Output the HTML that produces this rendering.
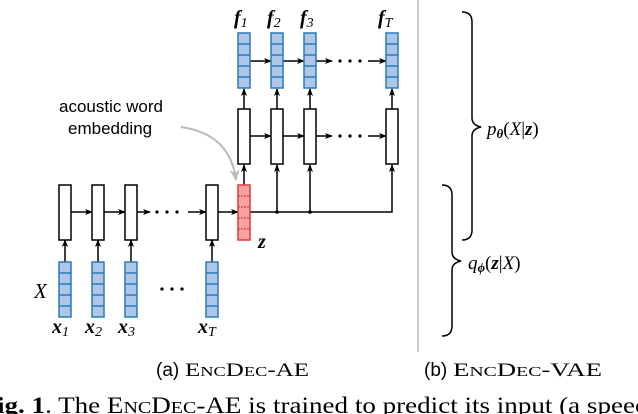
<!DOCTYPE html>
<html><head><meta charset="utf-8"><style>
html,body{margin:0;padding:0;background:#fff;width:638px;height:414px;overflow:hidden}
svg{display:block}
.m{font-family:"Liberation Serif",serif;font-style:italic}
.b{font-weight:bold}
</style></head><body>
<svg width="638" height="414" viewBox="0 0 638 414" xmlns="http://www.w3.org/2000/svg">
<defs>
<marker id="a" markerWidth="8" markerHeight="6" refX="7" refY="3" orient="auto" markerUnits="userSpaceOnUse"><path d="M0,0 L8,3 L0,6 L2,3 z" fill="#000"/></marker>
<marker id="g" markerWidth="12" markerHeight="10" refX="10" refY="5" orient="auto" markerUnits="userSpaceOnUse"><path d="M0,0 L11,5 L0,10 L3,5 z" fill="#bbb"/></marker>
<g id="vec"><rect x="0" y="0" width="12" height="55" fill="#aec7e8" stroke="#2a7ab8" stroke-width="1.5"/><path d="M0,11H12M0,22H12M0,33H12M0,44H12" stroke="#2a7ab8" stroke-width="1.5"/></g>
<rect id="box" x="0" y="0" width="12" height="55" fill="#fff" stroke="#000" stroke-width="1.5"/>
</defs>
<g stroke="#000" stroke-width="1.5" fill="none">
<line x1="65" y1="262" x2="65" y2="240" marker-end="url(#a)"/>
<line x1="98" y1="262" x2="98" y2="240" marker-end="url(#a)"/>
<line x1="131" y1="262" x2="131" y2="240" marker-end="url(#a)"/>
<line x1="212" y1="262" x2="212" y2="240" marker-end="url(#a)"/>
<line x1="71" y1="212" x2="92" y2="212" marker-end="url(#a)"/>
<line x1="104" y1="212" x2="125" y2="212" marker-end="url(#a)"/>
<line x1="137" y1="212" x2="150" y2="212" marker-end="url(#a)"/>
<line x1="188" y1="212" x2="206" y2="212" marker-end="url(#a)"/>
<line x1="218" y1="212" x2="238" y2="212" marker-end="url(#a)"/>
<line x1="244" y1="185" x2="244" y2="165" marker-end="url(#a)"/>
<polyline points="250,212 392,212 392,165" marker-end="url(#a)"/>
<line x1="277" y1="212" x2="277" y2="165" marker-end="url(#a)"/>
<line x1="310" y1="212" x2="310" y2="165" marker-end="url(#a)"/>
<line x1="250" y1="136" x2="271" y2="136" marker-end="url(#a)"/>
<line x1="283" y1="136" x2="304" y2="136" marker-end="url(#a)"/>
<line x1="316" y1="136" x2="332" y2="136" marker-end="url(#a)"/>
<line x1="368" y1="136" x2="386" y2="136" marker-end="url(#a)"/>
<line x1="250" y1="61" x2="271" y2="61" marker-end="url(#a)"/>
<line x1="283" y1="61" x2="304" y2="61" marker-end="url(#a)"/>
<line x1="316" y1="61" x2="332" y2="61" marker-end="url(#a)"/>
<line x1="368" y1="61" x2="386" y2="61" marker-end="url(#a)"/>
<line x1="244" y1="109" x2="244" y2="89" marker-end="url(#a)"/>
<line x1="277" y1="109" x2="277" y2="89" marker-end="url(#a)"/>
<line x1="310" y1="109" x2="310" y2="89" marker-end="url(#a)"/>
<line x1="392" y1="109" x2="392" y2="89" marker-end="url(#a)"/>
</g>
<circle cx="277" cy="212" r="1.8"/><circle cx="310" cy="212" r="1.8"/>
<g fill="#000">
<circle cx="157" cy="212" r="1.6"/><circle cx="167" cy="212" r="1.6"/><circle cx="177" cy="212" r="1.6"/>
<circle cx="340" cy="136" r="1.6"/><circle cx="350" cy="136" r="1.6"/><circle cx="360" cy="136" r="1.6"/>
<circle cx="340" cy="61" r="1.6"/><circle cx="350" cy="61" r="1.6"/><circle cx="360" cy="61" r="1.6"/>
<circle cx="162" cy="289" r="1.6"/><circle cx="172" cy="289" r="1.6"/><circle cx="182" cy="289" r="1.6"/>
</g>
<use href="#box" x="59" y="185"/><use href="#box" x="92" y="185"/><use href="#box" x="125" y="185"/><use href="#box" x="206" y="185"/>
<use href="#box" x="238" y="109"/><use href="#box" x="271" y="109"/><use href="#box" x="304" y="109"/><use href="#box" x="386" y="109"/>
<use href="#vec" x="59" y="262"/><use href="#vec" x="92" y="262"/><use href="#vec" x="125" y="262"/><use href="#vec" x="206" y="262"/>
<use href="#vec" x="238" y="33"/><use href="#vec" x="271" y="33"/><use href="#vec" x="304" y="33"/><use href="#vec" x="386" y="33"/>
<rect x="238" y="185" width="12" height="55" fill="#f7a1a1" stroke="#e03a3a" stroke-width="1.5"/>
<path d="M238,196H250M238,207H250M238,218H250M238,229H250" stroke="#e03a3a" stroke-width="1.2" stroke-dasharray="2,1"/>
<path d="M181,127 C215,132 232,150 236,180" stroke="#bbb" stroke-width="2" fill="none" marker-end="url(#g)"/>
<g font-family="Liberation Sans, sans-serif" font-size="17" fill="#000">
<text x="59" y="112">acoustic word</text>
<text x="68" y="134">embedding</text>
</g>
<g class="m" font-size="20">
<text x="234" y="24" class="b">f<tspan font-size="14" font-weight="normal" dy="3">1</tspan></text>
<text x="267" y="24" class="b">f<tspan font-size="14" font-weight="normal" dy="3">2</tspan></text>
<text x="300" y="24" class="b">f<tspan font-size="14" font-weight="normal" dy="3">3</tspan></text>
<text x="378" y="24" class="b">f<tspan font-size="14" font-weight="normal" dy="3">T</tspan></text>
<text x="52" y="333" class="b">x<tspan font-size="14" font-weight="normal" dy="3">1</tspan></text>
<text x="85" y="333" class="b">x<tspan font-size="14" font-weight="normal" dy="3">2</tspan></text>
<text x="118" y="333" class="b">x<tspan font-size="14" font-weight="normal" dy="3">3</tspan></text>
<text x="198" y="333" class="b">x<tspan font-size="14" font-weight="normal" dy="3">T</tspan></text>
<text x="34" y="298" font-size="21">X</text>
<text x="258" y="248" class="b">z</text>
<text x="487" y="135" font-size="19">p<tspan font-size="13" dy="3" font-weight="bold">θ</tspan><tspan dy="-3" font-style="normal">(</tspan>X<tspan font-style="normal">|</tspan><tspan font-weight="bold">z</tspan><tspan font-style="normal">)</tspan></text>
<text x="468" y="269" font-size="19">q<tspan font-size="13" dy="3" font-weight="bold">ϕ</tspan><tspan dy="-3" font-style="normal">(</tspan><tspan font-weight="bold">z</tspan><tspan font-style="normal">|</tspan>X<tspan font-style="normal">)</tspan></text>
</g>
<line x1="418" y1="0" x2="418" y2="352" stroke="#bbb" stroke-width="1.5"/>
<path d="M462,12 Q472,12 472,22 L472,118 Q472,125 481,127 Q472,129 472,136 L472,230 Q472,240 462,240" stroke="#000" stroke-width="1.5" fill="none"/>
<path d="M442,185 Q452,185 452,195 L452,252 Q452,259 461,261 Q452,263 452,270 L452,326 Q452,336 442,336" stroke="#000" stroke-width="1.5" fill="none"/>
<g font-size="19" fill="#000">
<text x="156" y="376" font-family="Liberation Sans, sans-serif">(a)</text>
<text x="185" y="376" font-family="Liberation Serif, serif" textLength="124" lengthAdjust="spacingAndGlyphs">E<tspan font-size="14">NC</tspan>D<tspan font-size="14">EC</tspan>-AE</text>
<text x="424" y="376" font-family="Liberation Sans, sans-serif">(b)</text>
<text x="453" y="376" font-family="Liberation Serif, serif" textLength="149" lengthAdjust="spacingAndGlyphs">E<tspan font-size="14">NC</tspan>D<tspan font-size="14">EC</tspan>-VAE</text>
</g>
<text x="-3" y="413" font-family="Liberation Serif, serif" font-size="23" fill="#000" textLength="650" lengthAdjust="spacingAndGlyphs"><tspan font-weight="bold">ig. 1</tspan>. The E<tspan font-size="17">NC</tspan>D<tspan font-size="17">EC</tspan>-AE is trained to predict its input (a speec</text>
</svg>
</body></html>
